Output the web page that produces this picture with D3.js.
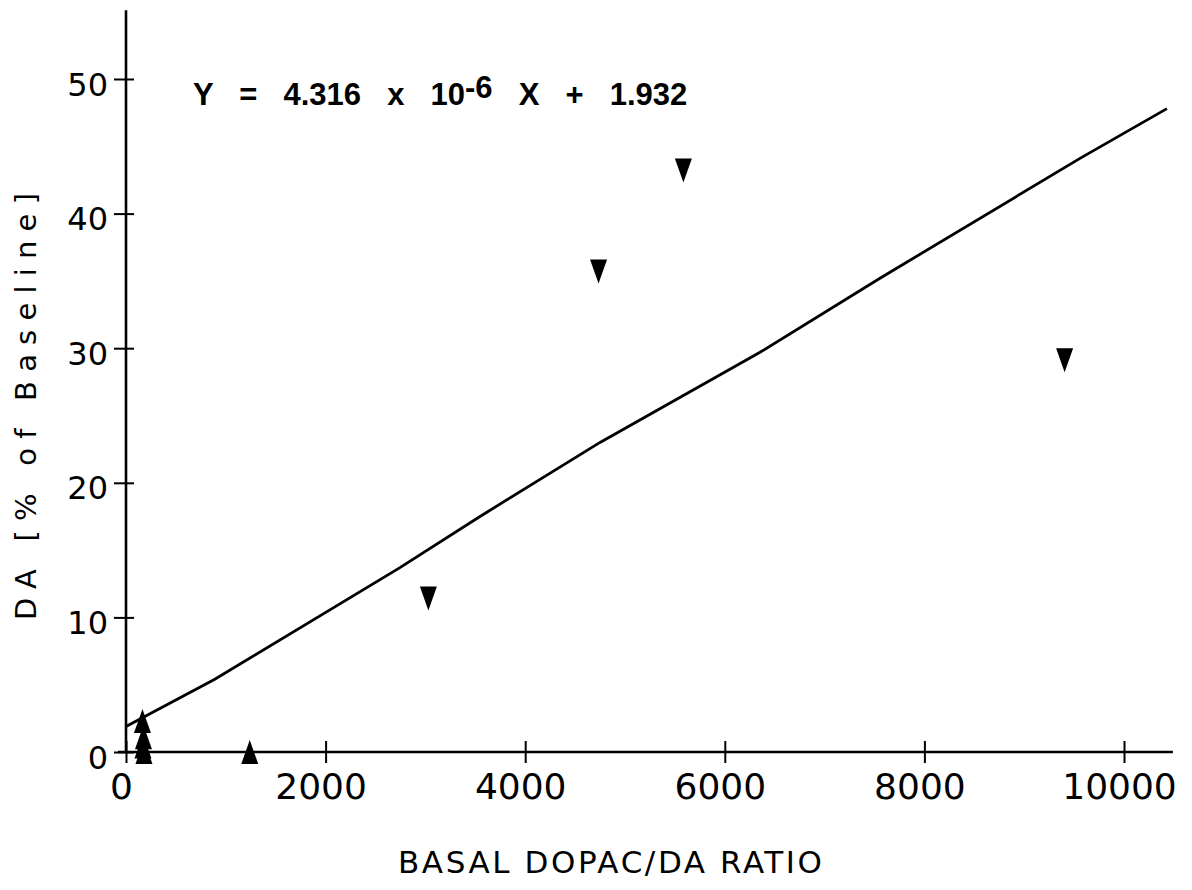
<!DOCTYPE html>
<html>
<head>
<meta charset="utf-8">
<script src="https://cdn.jsdelivr.net/npm/d3@7"></script>
<style>
  body { margin: 0; background: #fff; }
  svg { display: block; }
</style>
</head>
<body>
<div id="chart"></div>
<script>
// values
var xTicks = [0, 2000, 4000, 6000, 8000, 10000];
var yTicks = [0, 10, 20, 30, 40, 50];

// filled up-triangles
var upX = [165, 175, 170, 180, 1240];
var upY = [2.3, 1.1, 0.4, 0, 0];

// filled down-triangles
var downX = [3030, 4735, 5585, 9405];
var downY = [11.4, 35.7, 43.2, 29.1];

// regression line as traced
var fitX = [0, 890, 2745, 3547, 4750, 6353, 7555, 9559, 10430];
var fitY = [1.9, 5.4, 13.7, 17.5, 23.0, 29.7, 35.2, 44.1, 47.8];

var W = 1192, H = 890;

var svg = d3.select("#chart")
  .append("svg")
    .attr("width", W)
    .attr("height", H);

var x = d3.scaleLinear().domain([0, 10000]).range([126, 1124]);
var y = d3.scaleLinear().domain([0, 50]).range([752, 79]);

var font = "'DejaVu Sans', sans-serif";

//X axis
var gx = svg.append("g")
    .attr("transform", "translate(0," + y(0) + ")")
    .call(d3.axisBottom(x).tickValues(xTicks).tickSize(11).tickFormat(d3.format("d")));
gx.select(".domain").remove();
gx.append("line")
    .attr("x1", 118).attr("x2", x(10490))
    .attr("stroke", "#000").attr("stroke-width", 2.6);
gx.selectAll(".tick line")
    .attr("y1", -11)
    .attr("stroke-width", 2);
gx.selectAll(".tick text")
    .attr("y", 47).attr("dy", 0).attr("x", -5)
    .attr("fill", "#000")
    .style("font-family", font)
    .style("font-size", "36px");

//Y axis
var gy = svg.append("g")
    .attr("transform", "translate(" + x(0) + ",0)")
    .call(d3.axisLeft(y).tickValues(yTicks).tickSize(12));
gy.select(".domain").remove();
gy.append("line")
    .attr("y1", y(55.1)).attr("y2", y(0))
    .attr("stroke", "#000").attr("stroke-width", 2.6);
gy.selectAll(".tick line")
    .attr("x2", 8)
    .attr("x1", -12)
    .attr("stroke-width", 2);
gy.selectAll(".tick text")
    .attr("x", -18).attr("dy", "0.5em")
    .attr("fill", "#000")
    .style("font-family", font)
    .style("font-size", "32px");

//Fit line
var fit = fitX.map(function(d, i) { return [d, fitY[i]]; });
svg.append("path")
    .datum(fit)
    .attr("fill", "none")
    .attr("stroke", "#000")
    .attr("stroke-width", 2.8)
    .attr("d", d3.line()
        .x(function(d) { return x(d[0]); })
        .y(function(d) { return y(d[1]); }));

//Markers
var upPath = "M0,-12L8.5,12L-8.5,12Z";
var downPath = "M-8.5,-12L8.5,-12L0,12Z";

svg.append("g").selectAll("path")
    .data(upX)
    .join("path")
    .attr("d", upPath)
    .attr("fill", "#000")
    .attr("transform", function(d, i) { return "translate(" + x(d) + "," + y(upY[i]) + ")"; });

svg.append("g").selectAll("path")
    .data(downX)
    .join("path")
    .attr("d", downPath)
    .attr("fill", "#000")
    .attr("transform", function(d, i) { return "translate(" + x(d) + "," + y(downY[i]) + ")"; });

//Equation
var eq = svg.append("text")
    .attr("x", 193)
    .attr("y", 105)
    .style("font-family", "'Liberation Sans', Arial, sans-serif")
    .style("font-weight", "bold")
    .style("font-size", "31px")
    .style("word-spacing", "17.5px");
eq.append("tspan").text("Y = 4.316 x 10");
eq.append("tspan").attr("dy", -7).text("-6");
eq.append("tspan").attr("dy", 7).text(" X + 1.932");

//Axis titles
svg.append("text")
    .attr("x", 398)
    .attr("y", 873)
    .attr("textLength", 424)
    .attr("lengthAdjust", "spacing")
    .style("font-family", font)
    .style("font-size", "31px")
    .text("BASAL DOPAC/DA RATIO");

svg.append("text")
    .attr("transform", "translate(36,620) rotate(-90)")
    .attr("textLength", 427)
    .attr("lengthAdjust", "spacing")
    .style("font-family", font)
    .style("font-size", "29px")
    .text("DA [% of Baseline]");
</script>
</body>
</html>
